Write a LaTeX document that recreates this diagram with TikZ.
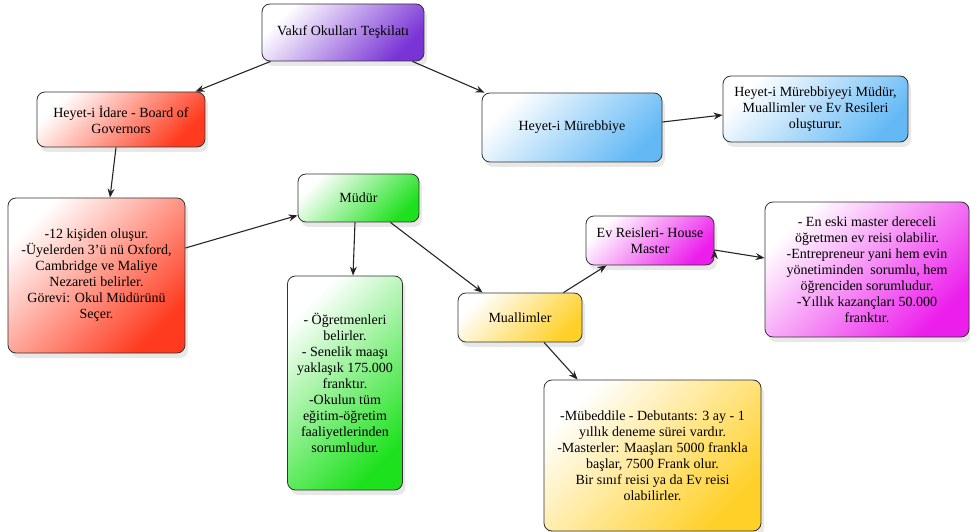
\documentclass[tikz,border=0pt]{standalone}
\usepackage{fontspec}
\setmainfont{Liberation Serif}
\usetikzlibrary{positioning,shadows,arrows.meta}

\definecolor{kmor}{RGB}{122,52,214}
\definecolor{kkirmizi}{RGB}{255,58,30}
\definecolor{kmavi}{RGB}{100,185,245}
\definecolor{kyesil}{RGB}{30,225,30}
\definecolor{ksari}{RGB}{255,208,40}
\definecolor{kpembe}{RGB}{236,30,236}

\begin{document}
\begin{tikzpicture}[on grid,auto,>={Stealth[length=9pt,width=7pt]},
  kutu/.style={draw=black!80,line width=0.8pt,rounded corners=8pt,align=center,
    text=black,font=\fontsize{14}{16}\selectfont,
    drop shadow={shadow xshift=3pt,shadow yshift=-5pt,opacity=0.18},
    top color=white,middle color=#1!40,bottom color=#1,shading angle=45},
  ok/.style={->,line width=1.1pt,draw=black!85}]
\useasboundingbox (-343pt,32.5pt) rectangle (627pt,-499.5pt);

\node[kutu=kmor,minimum width=162pt,minimum height=57pt] (vakif) {Vakıf Okulları Teşkilatı};
\node[kutu=kkirmizi,minimum width=168pt,minimum height=55pt] (idare) [below left=87pt and 222pt of vakif] {Heyet-i İdare - Board of\\Governors};
\node[kutu=kmavi,minimum width=180pt,minimum height=69pt] (mureb) [below right=95pt and 229pt of vakif] {Heyet-i Mürebbiye};
\node[kutu=kmavi,minimum width=185pt,minimum height=66pt] (murebnot) [above right=18.5pt and 243.5pt of mureb] {Heyet-i Mürebbiyeyi Müdür,\\Muallimler ve Ev Resileri\\oluşturur.};

%% idare kolu
\node[kutu=kkirmizi,minimum width=177pt,minimum height=155pt] (idarenot) [below left=156pt and 24.5pt of idare] {-12 kişiden oluşur.\\-Üyelerden 3'ü nü Oxford,\\Cambridge ve Maliye\\Nezareti belirler.\\Görevi: Okul Müdürünü\\Seçer.};
\node[kutu=kyesil,minimum width=121pt,minimum height=48pt] (mudur) [above right=77.5pt and 262pt of idarenot] {Müdür};
\node[kutu=kyesil,minimum width=115pt,minimum height=214pt] (mudurnot) [below left=185pt and 13.5pt of mudur] {- Öğretmenleri\\belirler.\\- Senelik maaşı\\yaklaşık 175.000\\franktır.\\-Okulun tüm\\eğitim-öğretim\\faaliyetlerinden\\sorumludur.};

%% muallimler
\node[kutu=ksari,minimum width=124pt,minimum height=49pt] (muallim) [below right=119.5pt and 161.5pt of mudur] {Muallimler};
\node[kutu=ksari,minimum width=217pt,minimum height=151pt] (muallimnot) [below right=138pt and 132.5pt of muallim] {-Mübeddile - Debutants: 3 ay - 1\\yıllık deneme sürei vardır.\\-Masterler: Maaşları 5000 frankla\\başlar, 7500 Frank olur.\\Bir sınıf reisi ya da Ev reisi\\olabilirler.};
\node[kutu=kpembe,minimum width=128pt,minimum height=49pt] (evreis) [above right=77pt and 130pt of muallim] {Ev Reisleri- House\\Master};
\node[kutu=kpembe,minimum width=204pt,minimum height=135pt] (evnot) [below right=29pt and 217pt of evreis] {- En eski master dereceli\\öğretmen ev reisi olabilir.\\-Entrepreneur yani hem evin\\yönetiminden\ \ sorumlu, hem\\öğrenciden sorumludur.\\-Yıllık kazançları 50.000\\franktır.};

\path[ok]
([xshift=9pt]vakif.south west) edge ([xshift=-10pt]idare.north east)
([xshift=-12pt]vakif.south east) edge ([xshift=3pt]mureb.north west)
([yshift=5.5pt]mureb.east) edge ([yshift=-6pt]murebnot.west)

([xshift=-5pt]idare.south) edge ([xshift=13.5pt]idarenot.north)
([yshift=27.5pt]idarenot.east) edge ([yshift=7pt]mudur.south west)
([xshift=-3.5pt]mudur.south) edge ([xshift=8pt]mudurnot.north)
([xshift=-29pt]mudur.south east) edge ([xshift=25pt]muallim.north west)

([xshift=-19pt]muallim.north east) edge ([xshift=21pt]evreis.south west)
([xshift=24pt]muallim.south) edge ([xshift=34pt]muallimnot.north west)
([yshift=-9.5pt]evreis.east) edge ([yshift=11.5pt]evnot.west)
;
\end{tikzpicture}
\end{document}
